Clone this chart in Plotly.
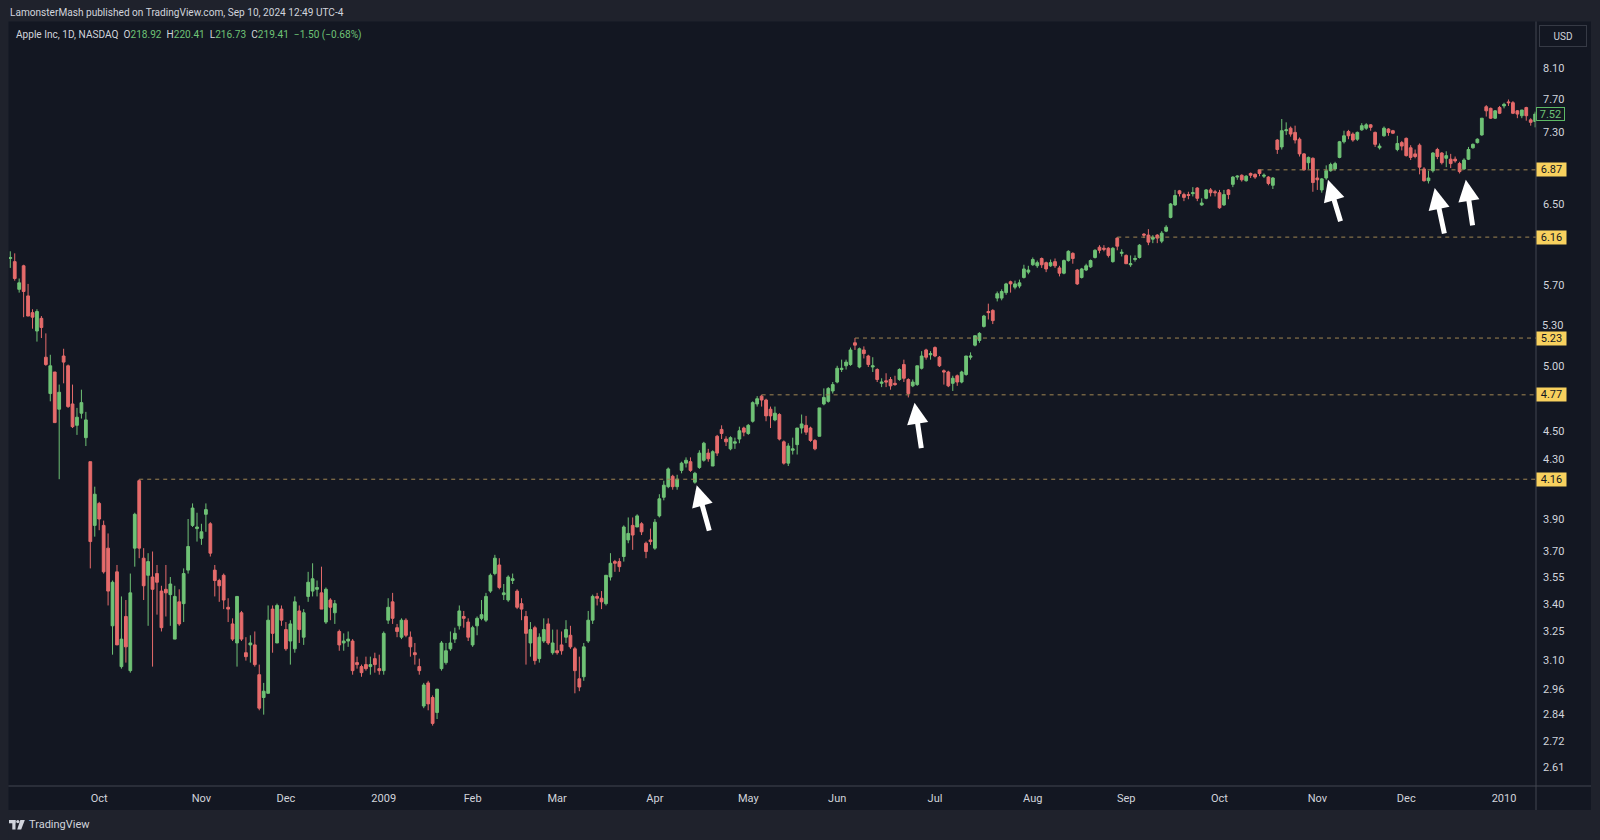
import math
import plotly.graph_objects as go

# ---------------- DATA (AAPL daily, split-adjusted) ----------------
MONTH_DAYS = [
    ("2008-09", [3, 4, 5, 8, 9, 10, 11, 12, 15, 16, 17, 18, 19, 22, 23, 24, 25, 26, 29, 30]),
    ("2008-10", [1, 2, 3, 6, 7, 8, 9, 10, 13, 14, 15, 16, 17, 20, 21, 22, 23, 24, 27, 28, 29, 30, 31]),
    ("2008-11", [3, 4, 5, 6, 7, 10, 11, 12, 13, 14, 17, 18, 19, 20, 21, 24, 25, 26, 28]),
    ("2008-12", [1, 2, 3, 4, 5, 8, 9, 10, 11, 12, 15, 16, 17, 18, 19, 22, 23, 24, 26, 29, 30, 31]),
    ("2009-01", [2, 5, 6, 7, 8, 9, 12, 13, 14, 15, 16, 20, 21, 22, 23, 26, 27, 28, 29, 30]),
    ("2009-02", [2, 3, 4, 5, 6, 9, 10, 11, 12, 13, 17, 18, 19, 20, 23, 24, 25, 26, 27]),
    ("2009-03", [2, 3, 4, 5, 6, 9, 10, 11, 12, 13, 16, 17, 18, 19, 20, 23, 24, 25, 26, 27, 30, 31]),
    ("2009-04", [1, 2, 3, 6, 7, 8, 9, 13, 14, 15, 16, 17, 20, 21, 22, 23, 24, 27, 28, 29, 30]),
    ("2009-05", [1, 4, 5, 6, 7, 8, 11, 12, 13, 14, 15, 18, 19, 20, 21, 22, 26, 27, 28, 29]),
    ("2009-06", [1, 2, 3, 4, 5, 8, 9, 10, 11, 12, 15, 16, 17, 18, 19, 22, 23, 24, 25, 26, 29, 30]),
    ("2009-07", [1, 2, 6, 7, 8, 9, 10, 13, 14, 15, 16, 17, 20, 21, 22, 23, 24, 27, 28, 29, 30, 31]),
    ("2009-08", [3, 4, 5, 6, 7, 10, 11, 12, 13, 14, 17, 18, 19, 20, 21, 24, 25, 26, 27, 28, 31]),
    ("2009-09", [1, 2, 3, 4, 8, 9, 10, 11, 14, 15, 16, 17, 18, 21, 22, 23, 24, 25, 28, 29, 30]),
    ("2009-10", [1, 2, 5, 6, 7, 8, 9, 12, 13, 14, 15, 16, 19, 20, 21, 22, 23, 26, 27, 28, 29, 30]),
    ("2009-11", [2, 3, 4, 5, 6, 9, 10, 11, 12, 13, 16, 17, 18, 19, 20, 23, 24, 25, 27, 30]),
    ("2009-12", [1, 2, 3, 4, 7, 8, 9, 10, 11, 14, 15, 16, 17, 18, 21, 22, 23, 24, 28, 29, 30, 31]),
    ("2010-01", [4, 5, 6, 7, 8, 11, 12, 13]),
]

OPEN = [
    # 2008-09
    5.95, 5.92, 5.66, 5.88, 5.60, 5.45, 5.29, 5.40, 5.07, 4.78, 4.95, 4.66, 5.08, 5.00, 4.70, 4.54, 4.63, 4.45, 4.28, 3.86,
    # 2008-10
    4.00, 3.86, 3.72, 3.28, 3.58, 3.07, 3.33, 3.05, 3.72, 4.15, 3.66, 3.56, 3.55, 3.57, 3.47, 3.48, 3.45, 3.21, 3.41, 3.40, 3.59, 3.86, 3.84,
    # 2008-11
    3.78, 3.93, 3.87, 3.59, 3.53, 3.56, 3.38, 3.29, 3.19, 3.35, 3.14, 3.18, 3.18, 3.03, 2.92, 2.94, 3.37, 3.19, 3.37,
    # 2008-12
    3.26, 3.20, 3.16, 3.36, 3.22, 3.44, 3.47, 3.48, 3.46, 3.30, 3.42, 3.35, 3.25, 3.19, 3.20, 3.20, 3.09, 3.07, 3.08, 3.07, 3.11, 3.06,
    # 2009-01
    3.05, 3.31, 3.41, 3.27, 3.22, 3.31, 3.22, 3.14, 3.07, 2.88, 2.99, 2.92, 2.85, 3.06, 3.09, 3.16, 3.21, 3.28, 3.33, 3.30,
    # 2009-02
    3.18, 3.28, 3.32, 3.31, 3.47, 3.57, 3.62, 3.45, 3.42, 3.53, 3.47, 3.40, 3.33, 3.19, 3.27, 3.11, 3.20, 3.29, 3.14,
    # 2009-03
    3.15, 3.18, 3.22, 3.23, 3.16, 3.01, 3.02, 3.20, 3.31, 3.44, 3.43, 3.40, 3.55, 3.64, 3.64, 3.67, 3.77, 3.86, 3.85, 3.87, 3.75, 3.77,
    # 2009-04
    3.72, 3.92, 4.04, 4.11, 4.18, 4.11, 4.22, 4.27, 4.28, 4.14, 4.24, 4.29, 4.34, 4.25, 4.46, 4.51, 4.44, 4.37, 4.41, 4.44, 4.52,
    # 2009-05
    4.48, 4.57, 4.70, 4.76, 4.73, 4.66, 4.58, 4.62, 4.42, 4.27, 4.36, 4.40, 4.52, 4.54, 4.52, 4.43, 4.46, 4.70, 4.72, 4.80,
    # 2009-06
    4.87, 4.97, 5.00, 5.01, 5.19, 4.99, 5.13, 5.08, 4.99, 4.97, 4.86, 4.88, 4.89, 4.86, 4.89, 5.01, 4.89, 4.84, 4.85, 4.98, 5.13, 5.09,
    # 2009-07
    5.15, 5.07, 4.96, 4.95, 4.86, 4.92, 4.87, 4.93, 5.07, 5.17, 5.21, 5.33, 5.46, 5.47, 5.58, 5.58, 5.63, 5.73, 5.68, 5.69, 5.77, 5.82,
    # 2009-08
    5.89, 5.88, 5.95, 5.91, 5.88, 5.92, 5.86, 5.81, 5.93, 6.00, 5.84, 5.77, 5.84, 5.87, 5.96, 6.06, 6.05, 6.05, 5.92, 6.15, 6.00,
    # 2009-09
    5.98, 5.89, 5.94, 5.96, 6.19, 6.18, 6.14, 6.18, 6.12, 6.22, 6.36, 6.49, 6.64, 6.60, 6.60, 6.61, 6.67, 6.49, 6.56, 6.65, 6.63,
    # 2009-10
    6.62, 6.49, 6.65, 6.71, 6.79, 6.81, 6.75, 6.83, 6.82, 6.87, 6.80, 6.79, 6.70, 7.21, 7.13, 7.32, 7.35, 7.30, 7.22, 7.05, 6.95, 7.00,
    # 2009-11
    6.78, 6.65, 6.78, 6.86, 6.88, 7.01, 7.19, 7.31, 7.28, 7.22, 7.33, 7.35, 7.39, 7.30, 7.12, 7.26, 7.34, 7.32, 7.10, 7.18,
    # 2009-12
    7.23, 7.12, 7.05, 7.15, 6.88, 6.75, 6.86, 7.10, 7.06, 7.00, 6.99, 6.99, 6.94, 6.88, 6.99, 7.12, 7.18, 7.27, 7.61, 7.59, 7.47, 7.60,
    # 2010-01
    7.62, 7.67, 7.66, 7.56, 7.50, 7.60, 7.45, 7.43,
]

HIGH = [
    6.02, 6.00, 5.76, 5.89, 5.71, 5.48, 5.48, 5.42, 5.27, 5.09, 4.95, 4.85, 5.14, 5.01, 4.85, 4.67, 4.81, 4.64, 4.28, 4.11,
    4.01, 3.89, 3.81, 3.53, 3.62, 3.44, 3.42, 3.57, 3.94, 4.16, 3.72, 3.69, 3.70, 3.62, 3.50, 3.62, 3.55, 3.50, 3.48, 3.60, 3.90, 4.00, 3.94,
    3.87, 4.00, 3.88, 3.62, 3.54, 3.57, 3.43, 3.32, 3.44, 3.36, 3.22, 3.23, 3.25, 3.08, 2.99, 3.39, 3.39, 3.40, 3.39,
    3.30, 3.31, 3.44, 3.39, 3.37, 3.58, 3.63, 3.53, 3.61, 3.49, 3.43, 3.42, 3.26, 3.24, 3.25, 3.21, 3.12, 3.08, 3.12, 3.12, 3.14, 3.13,
    3.25, 3.43, 3.46, 3.29, 3.32, 3.32, 3.25, 3.19, 3.11, 2.99, 3.00, 2.93, 2.96, 3.20, 3.19, 3.25, 3.27, 3.39, 3.36, 3.32,
    3.28, 3.33, 3.42, 3.46, 3.57, 3.68, 3.66, 3.51, 3.56, 3.57, 3.48, 3.43, 3.36, 3.30, 3.28, 3.24, 3.32, 3.32, 3.26,
    3.26, 3.25, 3.31, 3.28, 3.17, 3.12, 3.19, 3.36, 3.45, 3.46, 3.47, 3.56, 3.69, 3.65, 3.66, 3.86, 3.91, 3.91, 3.93, 3.88, 3.76, 3.84,
    3.90, 4.06, 4.15, 4.24, 4.19, 4.19, 4.28, 4.31, 4.31, 4.21, 4.36, 4.42, 4.37, 4.36, 4.47, 4.54, 4.46, 4.46, 4.45, 4.53, 4.53,
    4.55, 4.72, 4.76, 4.77, 4.74, 4.68, 4.68, 4.63, 4.43, 4.41, 4.45, 4.52, 4.62, 4.61, 4.53, 4.44, 4.67, 4.82, 4.83, 4.87,
    5.00, 5.05, 5.05, 5.15, 5.23, 5.15, 5.16, 5.09, 5.07, 4.98, 4.90, 4.94, 4.91, 4.92, 4.98, 5.05, 4.90, 4.89, 5.00, 5.12, 5.14, 5.12,
    5.16, 5.08, 4.97, 4.96, 4.92, 4.93, 4.96, 5.08, 5.11, 5.25, 5.28, 5.43, 5.53, 5.48, 5.64, 5.66, 5.72, 5.74, 5.74, 5.75, 5.89, 5.88,
    5.96, 5.93, 5.96, 5.92, 5.94, 5.95, 5.88, 5.94, 6.03, 6.01, 5.85, 5.86, 5.90, 5.94, 6.04, 6.08, 6.08, 6.06, 6.06, 6.16, 6.04,
    5.99, 5.98, 5.98, 6.09, 6.20, 6.24, 6.18, 6.19, 6.22, 6.28, 6.51, 6.65, 6.65, 6.62, 6.63, 6.68, 6.68, 6.56, 6.66, 6.67, 6.65,
    6.65, 6.65, 6.66, 6.80, 6.81, 6.82, 6.81, 6.84, 6.83, 6.87, 6.83, 6.80, 6.79, 7.22, 7.46, 7.42, 7.37, 7.38, 7.24, 7.06, 7.02, 7.01,
    6.87, 6.78, 6.92, 6.95, 6.96, 7.20, 7.32, 7.33, 7.30, 7.31, 7.41, 7.41, 7.40, 7.31, 7.17, 7.37, 7.35, 7.33, 7.26, 7.20,
    7.24, 7.15, 7.10, 7.17, 6.90, 6.86, 7.07, 7.12, 7.07, 7.08, 7.05, 7.02, 6.96, 7.00, 7.13, 7.17, 7.23, 7.47, 7.63, 7.60, 7.57, 7.62,
    7.66, 7.70, 7.68, 7.57, 7.57, 7.61, 7.47, 7.55,
]

LOW = [
    5.86, 5.74, 5.63, 5.41, 5.42, 5.31, 5.20, 5.23, 5.00, 4.72, 4.56, 4.16, 4.86, 4.67, 4.52, 4.47, 4.59, 4.39, 3.60, 3.79,
    3.83, 3.57, 3.39, 3.13, 3.18, 3.06, 3.09, 3.04, 3.61, 3.66, 3.42, 3.28, 3.07, 3.34, 3.25, 3.33, 3.28, 3.21, 3.28, 3.30, 3.57, 3.85, 3.76,
    3.74, 3.82, 3.67, 3.44, 3.41, 3.37, 3.30, 3.20, 3.07, 3.20, 3.10, 3.09, 3.07, 2.86, 2.84, 2.94, 3.14, 3.19, 3.28,
    3.15, 3.08, 3.14, 3.19, 3.18, 3.41, 3.44, 3.44, 3.37, 3.29, 3.31, 3.29, 3.15, 3.15, 3.17, 3.03, 3.06, 3.02, 3.05, 3.03, 3.04, 3.03,
    3.03, 3.29, 3.29, 3.22, 3.21, 3.22, 3.12, 3.08, 3.03, 2.87, 2.86, 2.79, 2.82, 3.05, 3.08, 3.15, 3.19, 3.26, 3.27, 3.20,
    3.17, 3.23, 3.31, 3.30, 3.46, 3.56, 3.48, 3.42, 3.41, 3.51, 3.37, 3.31, 3.08, 3.12, 3.08, 3.09, 3.19, 3.18, 3.13,
    3.13, 3.13, 3.19, 3.16, 2.94, 2.95, 3.00, 3.19, 3.29, 3.39, 3.37, 3.39, 3.53, 3.58, 3.58, 3.64, 3.75, 3.71, 3.85, 3.80, 3.66, 3.74,
    3.71, 3.91, 4.02, 4.10, 4.09, 4.09, 4.20, 4.24, 4.21, 4.13, 4.23, 4.28, 4.28, 4.25, 4.32, 4.44, 4.39, 4.36, 4.37, 4.41, 4.46,
    4.47, 4.56, 4.68, 4.68, 4.57, 4.52, 4.57, 4.43, 4.26, 4.25, 4.33, 4.33, 4.48, 4.47, 4.42, 4.36, 4.46, 4.69, 4.71, 4.78,
    4.86, 4.95, 4.97, 5.00, 5.13, 4.98, 5.06, 4.99, 4.95, 4.87, 4.83, 4.83, 4.81, 4.84, 4.88, 4.87, 4.75, 4.83, 4.84, 4.97, 5.05, 5.05,
    5.07, 4.99, 4.85, 4.83, 4.80, 4.84, 4.86, 4.92, 5.05, 5.16, 5.19, 5.32, 5.39, 5.35, 5.55, 5.56, 5.61, 5.63, 5.66, 5.67, 5.76, 5.80,
    5.88, 5.86, 5.86, 5.82, 5.87, 5.86, 5.78, 5.80, 5.92, 5.90, 5.70, 5.76, 5.83, 5.86, 5.95, 6.00, 6.02, 5.96, 5.91, 6.03, 5.97,
    5.90, 5.87, 5.92, 5.95, 6.15, 6.08, 6.10, 6.10, 6.10, 6.21, 6.35, 6.48, 6.58, 6.53, 6.55, 6.58, 6.53, 6.48, 6.55, 6.58, 6.58,
    6.45, 6.48, 6.55, 6.68, 6.76, 6.74, 6.74, 6.78, 6.77, 6.80, 6.78, 6.70, 6.66, 7.05, 7.10, 7.27, 7.25, 7.17, 7.02, 6.86, 6.88, 6.63,
    6.65, 6.62, 6.76, 6.85, 6.86, 7.00, 7.17, 7.22, 7.19, 7.20, 7.32, 7.33, 7.32, 7.13, 7.10, 7.25, 7.26, 7.28, 7.08, 7.09,
    7.02, 6.98, 7.00, 6.82, 6.74, 6.72, 6.84, 6.99, 6.93, 6.90, 6.89, 6.95, 6.83, 6.87, 6.98, 7.11, 7.17, 7.26, 7.49, 7.46, 7.46, 7.52,
    7.59, 7.62, 7.52, 7.47, 7.47, 7.44, 7.38, 7.36,
]

CLOSE = [
    5.96, 5.76, 5.72, 5.64, 5.42, 5.41, 5.46, 5.32, 5.01, 5.00, 4.56, 4.79, 5.03, 4.68, 4.53, 4.60, 4.71, 4.58, 3.76, 4.06,
    3.90, 3.58, 3.47, 3.52, 3.18, 3.21, 3.17, 3.46, 3.93, 3.72, 3.50, 3.64, 3.48, 3.52, 3.27, 3.46, 3.51, 3.44, 3.29, 3.57, 3.73, 3.97, 3.85,
    3.82, 3.96, 3.69, 3.53, 3.50, 3.42, 3.37, 3.21, 3.44, 3.21, 3.12, 3.19, 3.08, 2.87, 2.95, 3.31, 3.24, 3.39, 3.31,
    3.16, 3.29, 3.41, 3.26, 3.35, 3.52, 3.54, 3.49, 3.37, 3.48, 3.38, 3.40, 3.18, 3.20, 3.21, 3.05, 3.08, 3.04, 3.06, 3.08, 3.08, 3.05,
    3.24, 3.38, 3.32, 3.25, 3.31, 3.23, 3.17, 3.13, 3.05, 2.98, 2.89, 2.80, 2.96, 3.19, 3.15, 3.19, 3.24, 3.36, 3.32, 3.22,
    3.27, 3.32, 3.34, 3.44, 3.56, 3.66, 3.49, 3.46, 3.55, 3.54, 3.38, 3.37, 3.24, 3.26, 3.10, 3.22, 3.26, 3.19, 3.19,
    3.14, 3.15, 3.26, 3.17, 3.05, 2.97, 3.17, 3.31, 3.44, 3.43, 3.41, 3.56, 3.63, 3.63, 3.61, 3.85, 3.81, 3.80, 3.92, 3.82, 3.70, 3.76,
    3.88, 4.03, 4.12, 4.23, 4.11, 4.16, 4.27, 4.29, 4.22, 4.20, 4.34, 4.41, 4.30, 4.35, 4.34, 4.48, 4.42, 4.45, 4.42, 4.50, 4.49,
    4.54, 4.71, 4.74, 4.73, 4.61, 4.61, 4.63, 4.44, 4.27, 4.39, 4.37, 4.52, 4.55, 4.49, 4.43, 4.37, 4.67, 4.75, 4.82, 4.85,
    4.98, 4.98, 5.03, 5.13, 5.17, 5.14, 5.10, 5.01, 5.00, 4.89, 4.87, 4.87, 4.84, 4.85, 4.97, 4.90, 4.78, 4.87, 5.00, 5.08, 5.07, 5.10,
    5.08, 5.00, 4.95, 4.84, 4.90, 4.87, 4.95, 5.08, 5.08, 5.25, 5.27, 5.42, 5.45, 5.38, 5.62, 5.64, 5.71, 5.71, 5.71, 5.72, 5.85, 5.84,
    5.94, 5.91, 5.89, 5.85, 5.91, 5.88, 5.81, 5.93, 6.02, 5.95, 5.71, 5.85, 5.88, 5.93, 6.03, 6.03, 6.04, 5.98, 6.05, 6.07, 6.01,
    5.90, 5.90, 5.95, 6.08, 6.18, 6.11, 6.16, 6.15, 6.20, 6.26, 6.50, 6.59, 6.61, 6.57, 6.59, 6.62, 6.56, 6.51, 6.65, 6.62, 6.62,
    6.46, 6.60, 6.60, 6.79, 6.80, 6.76, 6.80, 6.81, 6.79, 6.83, 6.81, 6.72, 6.78, 7.10, 7.32, 7.33, 7.28, 7.21, 7.05, 6.87, 7.01, 6.73,
    6.76, 6.77, 6.86, 6.93, 6.94, 7.19, 7.26, 7.26, 7.21, 7.30, 7.38, 7.39, 7.36, 7.16, 7.14, 7.35, 7.30, 7.29, 7.17, 7.14,
    7.03, 7.01, 7.02, 6.90, 6.75, 6.78, 7.06, 7.02, 6.95, 7.03, 6.94, 6.97, 6.85, 6.98, 7.10, 7.16, 7.22, 7.47, 7.56, 7.47, 7.56, 7.53,
    7.64, 7.66, 7.53, 7.52, 7.57, 7.50, 7.42, 7.52,
]

# horizontal support/resistance rays: (start date, level)
LEVELS = [("2008-10-14", 4.16), ("2009-05-06", 4.77), ("2009-06-05", 5.23),
          ("2009-08-28", 6.16), ("2009-10-14", 6.87)]

# up-arrows: (date, price at tip, tail offset px x, tail offset px y)
ARROWS = [("2009-04-15", 4.12, 13, 47), ("2009-06-24", 4.71, 7, 47),
          ("2009-11-04", 6.76, 13, 43), ("2009-12-09", 6.67, 10, 47),
          ("2009-12-18", 6.76, 7, 47)]

PRICE_TICKS = [2.61, 2.72, 2.84, 2.96, 3.10, 3.25, 3.40, 3.55, 3.70, 3.90, 4.30,
               4.50, 5.00, 5.70, 6.50, 7.30, 7.70, 8.10]
# tick crowded by the 5.23 level label: drawn separately, nudged upward
CROWDED_TICK = 5.30

HEADER = "LamonsterMash published on TradingView.com, Sep 10, 2024 12:49 UTC-4"
SYMBOL = "Apple Inc, 1D, NASDAQ"
OHLC_LEGEND = [("O", "218.92"), ("H", "220.41"), ("L", "216.73"), ("C", "219.41")]
CHANGE = "\u22121.50 (\u22120.68%)"
LAST_PRICE = 7.52

# ---------------- STYLE ----------------
OUTER = "#1f222c"
PANEL = "#131722"
TXT = "#d1d4dc"
UP = "#6fc276"
DOWN = "#e56b6b"
LEVEL_LINE = "#a08652"
LEVEL_BG = "#f8d15e"
SEP = "#434651"
FONT = "Roboto, 'Liberation Sans', sans-serif"

W, H = 1600, 840
L_M, R_M, T_M, B_M = 9, 64, 22, 54
PW = W - L_M - R_M
PH = H - T_M - B_M


def px(x):
    return (x - L_M) / PW


def py(y):
    return (H - B_M - y) / PH


dates = [f"{m}-{d:02d}" for m, days in MONTH_DAYS for d in days]
xs = list(range(len(dates)))
idx_of = {d: i for i, d in enumerate(dates)}

# month tick positions (first trading day of each month)
tickvals, ticktext = [], []
MONTH_NAMES = ["Jan", "Feb", "Mar", "Apr", "May", "Jun", "Jul", "Aug", "Sep", "Oct", "Nov", "Dec"]
for m, days in MONTH_DAYS:
    i = idx_of[f"{m}-{days[0]:02d}"]
    if i == 0:
        continue
    yr, mo = m.split("-")
    tickvals.append(i)
    ticktext.append(yr if mo == "01" else MONTH_NAMES[int(mo) - 1])

fig = go.Figure()
fig.add_trace(go.Candlestick(
    x=xs, open=OPEN, high=HIGH, low=LOW, close=CLOSE,
    increasing=dict(fillcolor=UP, line=dict(color=UP, width=1)),
    decreasing=dict(fillcolor=DOWN, line=dict(color=DOWN, width=1)),
    whiskerwidth=0, showlegend=False, hoverinfo="skip",
))

X_MAX = 343.19
for d, lvl in LEVELS:
    fig.add_trace(go.Scatter(
        x=[idx_of[d], X_MAX + 5], y=[lvl, lvl], mode="lines",
        line=dict(color=LEVEL_LINE, width=1, dash="4px,4px"),
        showlegend=False, hoverinfo="skip",
    ))

annotations = []
for d, p, axo, ayo in ARROWS:
    annotations.append(dict(
        x=idx_of[d] + 0.4, y=math.log10(p), xref="x", yref="y",
        ax=axo, ay=ayo, axref="pixel", ayref="pixel",
        showarrow=True, arrowhead=2, arrowsize=0.85, arrowwidth=5,
        arrowcolor="#ffffff", standoff=0, text="",
    ))

annotations.append(dict(
    x=1, xref="paper", xanchor="left", y=math.log10(CROWDED_TICK), yref="y",
    yanchor="middle", yshift=4, xshift=5, text=f"{CROWDED_TICK:.2f}", showarrow=False,
    font=dict(family=FONT, size=11, color=TXT), borderpad=0,
))

for d, lvl in LEVELS:
    annotations.append(dict(
        x=1, xref="paper", xanchor="left", y=math.log10(lvl), yref="y",
        text=f"{lvl:.2f}", showarrow=False, bgcolor=LEVEL_BG,
        font=dict(family=FONT, size=11, color="#131722"),
        width=27, height=11, borderpad=1, xshift=0,
    ))

annotations.append(dict(
    x=1, xref="paper", xanchor="left", y=math.log10(LAST_PRICE), yref="y",
    text=f"{LAST_PRICE:.2f}", showarrow=False, bgcolor=PANEL,
    bordercolor="#5db865", borderwidth=1,
    font=dict(family=FONT, size=11, color=UP),
    width=25, height=10, borderpad=1,
))

annotations.append(dict(
    x=px(1563), y=py(36.5), xref="paper", yref="paper", text="USD",
    showarrow=False, font=dict(family=FONT, size=10, color=TXT),
    bordercolor="#363a45", borderwidth=1, width=42, height=16, borderpad=2,
    xanchor="center", yanchor="middle",
))

annotations.append(dict(
    x=px(8), y=py(12.5), xref="paper", yref="paper", text=HEADER,
    showarrow=False, xanchor="left", yanchor="middle",
    font=dict(family=FONT, size=10.1, color=TXT),
))

legend_txt = f'<span style="color:{TXT}">{SYMBOL}</span>\u00a0\u00a0'
for k, v in OHLC_LEGEND:
    legend_txt += f'<span style="color:{TXT}">{k}</span><span style="color:{UP}">{v}</span>\u00a0\u00a0'
legend_txt += f'<span style="color:{UP}">{CHANGE}</span>'
annotations.append(dict(
    x=px(14), y=py(35), xref="paper", yref="paper", text=legend_txt,
    showarrow=False, xanchor="left", yanchor="middle",
    font=dict(family=FONT, size=10.1, color=TXT),
))

annotations.append(dict(
    x=px(27), y=py(825), xref="paper", yref="paper", text="TradingView",
    showarrow=False, xanchor="left", yanchor="middle",
    font=dict(family=FONT, size=11, color=TXT),
))

shapes = [
    # outer frame strips
    dict(type="rect", xref="paper", yref="paper", x0=px(0), x1=px(W), y0=py(0), y1=py(21.5),
         fillcolor=OUTER, line=dict(width=0)),
    dict(type="rect", xref="paper", yref="paper", x0=px(0), x1=px(W), y0=py(810), y1=py(H),
         fillcolor=OUTER, line=dict(width=0)),
    dict(type="rect", xref="paper", yref="paper", x0=px(0), x1=px(8.5), y0=py(0), y1=py(H),
         fillcolor=OUTER, line=dict(width=0)),
    dict(type="rect", xref="paper", yref="paper", x0=px(1591), x1=px(W), y0=py(0), y1=py(H),
         fillcolor=OUTER, line=dict(width=0)),
    # scale separators
    dict(type="line", xref="paper", yref="paper", x0=px(1536), x1=px(1536), y0=py(21.5), y1=py(810),
         line=dict(color=SEP, width=1)),
    dict(type="line", xref="paper", yref="paper", x0=px(8.5), x1=px(1591), y0=py(786), y1=py(786),
         line=dict(color=SEP, width=1)),
    # TradingView logo
    dict(type="rect", xref="paper", yref="paper", x0=px(9), x1=px(15.5), y0=py(820), y1=py(823.3),
         fillcolor=TXT, line=dict(width=0)),
    dict(type="rect", xref="paper", yref="paper", x0=px(12.3), x1=px(15.5), y0=py(820), y1=py(829.5),
         fillcolor=TXT, line=dict(width=0)),
    dict(type="circle", xref="paper", yref="paper", x0=px(16.2), x1=px(19.4), y0=py(820), y1=py(823.2),
         fillcolor=TXT, line=dict(width=0)),
    dict(type="path", xref="paper", yref="paper",
         path=f"M {px(20.3)},{py(820)} L {px(24.8)},{py(820)} L {px(21.2)},{py(829.5)} L {px(17.2)},{py(829.5)} Z",
         fillcolor=TXT, line=dict(width=0)),
]

fig.update_layout(
    width=W, height=H, autosize=False,
    margin=dict(l=L_M, r=R_M, t=T_M, b=B_M, pad=0),
    paper_bgcolor=PANEL, plot_bgcolor=PANEL,
    boxgap=0.38, boxgroupgap=0,
    font=dict(family=FONT, color=TXT, size=11),
    annotations=annotations, shapes=shapes, showlegend=False,
    xaxis=dict(
        range=[-0.29, X_MAX], tickvals=tickvals, ticktext=ticktext,
        showgrid=False, zeroline=False, showline=False, ticks="",
        tickfont=dict(family=FONT, size=11, color=TXT),
        rangeslider=dict(visible=False), fixedrange=True, ticklabelstandoff=4,
    ),
    yaxis=dict(
        type="log", side="right",
        range=[math.log10(2.5297), math.log10(8.731)],
        tickvals=PRICE_TICKS, ticktext=[f"{t:.2f}" for t in PRICE_TICKS],
        showgrid=False, zeroline=False, showline=False, ticks="",
        tickfont=dict(family=FONT, size=11, color=TXT),
        fixedrange=True, ticklabelstandoff=6,
    ),
)

fig.write_html("out.html", config={"displayModeBar": False})
